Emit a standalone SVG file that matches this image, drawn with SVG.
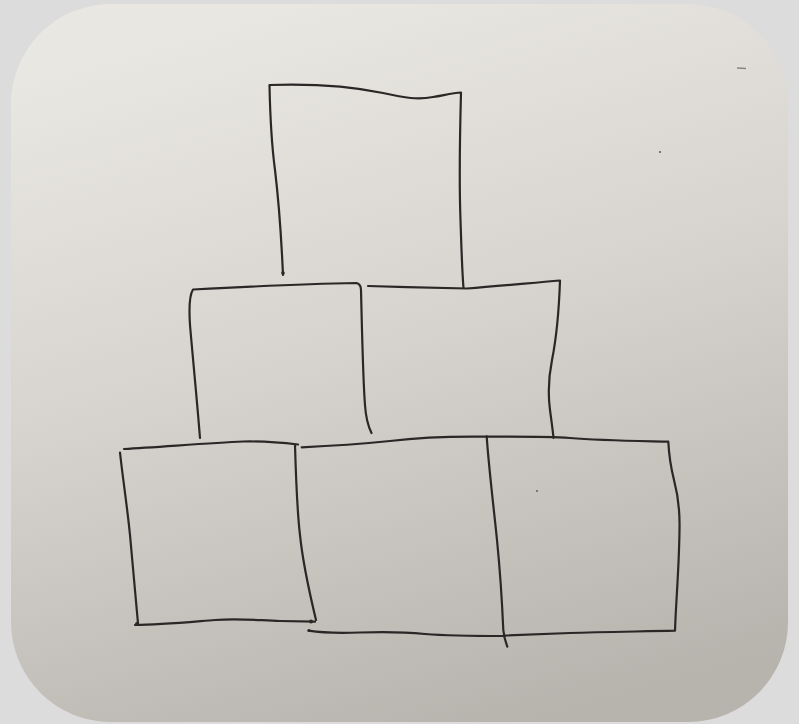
<svg xmlns="http://www.w3.org/2000/svg" width="799" height="724" viewBox="0 0 799 724">
<defs>
<linearGradient id="paper" x1="0.35" y1="0" x2="0.65" y2="1">
<stop offset="0" stop-color="#e9e7e2"/>
<stop offset="0.45" stop-color="#d7d4cf"/>
<stop offset="1" stop-color="#b7b3ad"/>
</linearGradient>
</defs>
<style>
.ink{fill:none;stroke:#2b2727;stroke-width:2.2;stroke-linecap:round;stroke-linejoin:round}
.dot{fill:#2b2727}
</style>
<rect x="0" y="0" width="799" height="724" fill="#dcdcdc"/>
<rect id="paper-sheet" x="11" y="4" width="777" height="718" rx="100" ry="100" fill="url(#paper)"/>
<path d="M737 68 L746 68.5" stroke="#8a8580" stroke-width="1.5" fill="none"/>
<circle cx="660" cy="152" r="1" fill="#555"/>
<circle cx="537" cy="491" r="0.9" fill="#555"/>
<g id="box-top">
<path class="ink" d="M283 275 C281 230, 278 195, 275 170 C271 140, 270 110, 269.5 85 C300 84, 340 84, 383 93 C405 98, 418 100, 433 97 C445 95, 453 93, 461 92.5 C460 130, 459 180, 460.5 220 C461.5 250, 462 270, 463.5 288"/>
<circle class="dot" cx="283" cy="273" r="1.8"/>
</g>
<g id="box-middle-left">
<path class="ink" d="M200 438 C197 400, 193 360, 190 325 C189 310, 189.5 295, 193 289.5 C240 287, 300 284, 356.5 283 C360 284, 361 286, 361 290 C362 330, 363 380, 365 405 C366 420, 369 428, 371.5 433"/>
</g>
<g id="box-middle-right">
<path class="ink" d="M368 286 C400 287, 440 288, 467 288.5 C500 286, 530 283, 560 280.5 C559 310, 556 340, 552 360 C548 380, 548 395, 550 410 C552 425, 553 432, 553.5 438"/>
</g>
<g id="box-bottom-left">
<path class="ink" d="M124 449 C160 447, 210 443, 243 441.5 C265 441, 285 443, 298 444.5"/>
<path class="ink" d="M120 452.5 C123 480, 127 505, 130 535 C133 570, 136 600, 138 623.5"/>
<path class="ink" d="M135 625 C160 625, 190 622, 215 620 C240 618, 260 620.5, 280 621 C295 621.3, 308 621.5, 315 621.7"/>
<path class="ink" d="M295 445 C296 480, 297 510, 300 535 C303 565, 310 595, 316 620"/>
<circle class="dot" cx="137" cy="624" r="2"/>
<circle class="dot" cx="311" cy="621.5" r="2"/>
</g>
<g id="box-bottom-middle">
<path class="ink" d="M301.7 447.3 C330 446, 360 444, 390 441 C415 438, 440 436, 486.7 436.7"/>
<path class="ink" d="M308.5 630.7 C320 632.5, 335 633.5, 360 632.5 C385 631.5, 405 632, 425 634 C450 636, 480 636, 505 636"/>
<circle class="dot" cx="309" cy="630.5" r="1.5"/>
</g>
<g id="box-bottom-right">
<path class="ink" d="M486.7 436.7 C520 436.5, 550 436.5, 570 438 C600 440.5, 640 441, 668.3 441.7 C669 455, 671 468, 674 480 C678 495, 680 510, 679.5 530 C679 570, 676 600, 675 630.7 C640 631.5, 600 632, 570 633 C545 634, 520 635, 505 635.5"/>
<path class="ink" d="M486.7 436.7 C489 470, 494 510, 497 540 C500 570, 502 600, 503.3 630 C504 638, 506 643, 507.3 646.7"/>
</g>
</svg>
